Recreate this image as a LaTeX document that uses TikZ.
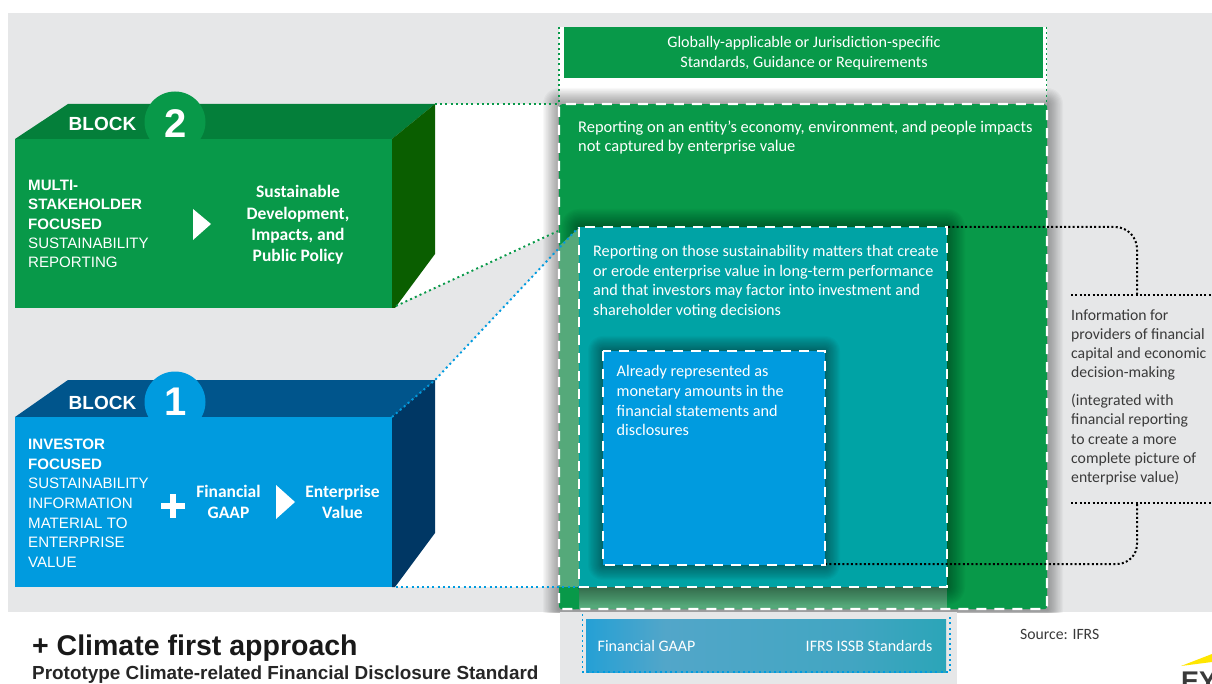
\documentclass[tikz,border=0pt]{standalone}
\usepackage{fontspec}
\setmainfont{Carlito}
\newfontfamily\arialf{Liberation Sans}
\usetikzlibrary{shadings,fadings}
\definecolor{bggray}{HTML}{E6E7E8}
\definecolor{ggreen}{HTML}{089949}
\definecolor{gtop}{HTML}{047F3A}
\definecolor{gside}{HTML}{0A5E00}
\definecolor{bblue}{HTML}{009BDF}
\definecolor{btop}{HTML}{00558C}
\definecolor{bside}{HTML}{003764}
\definecolor{tteal}{HTML}{00A3A5}
\definecolor{paleg}{HTML}{55A97A}
\definecolor{inktext}{HTML}{3A3A3A}
\definecolor{eyyellow}{HTML}{FFE600}
\definecolor{midblue}{HTML}{52A6C9}
\pgfdeclarehorizontalshading{gaapshade}{100bp}{
 color(0bp)=(bblue); color(16bp)=(bblue); color(36bp)=(midblue); color(62bp)=(midblue!80!tteal); color(100bp)=(tteal)}
\tikzset{
 x=1pt,y=-1pt,
 panelborder/.style={draw=white,line width=2.1pt,dash pattern=on 10pt off 8pt},
 dotg/.style={draw=ggreen,line width=1.9pt,dash pattern=on 2pt off 3.2pt},
 dotb/.style={draw=bblue,line width=1.9pt,dash pattern=on 2pt off 3.2pt},
 dotk/.style={draw=black,line width=2pt,dash pattern=on 2pt off 2.3pt},
 wtext/.style={text=white,align=left,anchor=north west,inner sep=0pt,font=\fontsize{16.2}{19.6}\selectfont},
 bltext/.style={text=white,align=left,anchor=north west,inner sep=0pt,font=\arialf\fontsize{15.1}{19.3}\selectfont},
 bltextb/.style={bltext,font=\arialf\fontsize{15.1}{19.6}\selectfont},
 ctextb/.style={text=white,align=center,inner sep=0pt,font=\fontsize{17.5}{21.2}\bfseries\selectfont},
 blockword/.style={text=white,inner sep=0pt,font=\arialf\bfseries\fontsize{19}{19}\selectfont},
 blocknum/.style={text=white,inner sep=0pt,font=\arialf\bfseries\fontsize{40}{40}\selectfont},
 sidetext/.style={text=inktext,align=left,anchor=north west,inner sep=0pt,font=\fontsize{15.7}{19.3}\selectfont},
}
% soft shadow: concentric translucent rectangles (x0,y0,x1,y1,reach)
\newcommand{\softshadow}[5]{%
  \foreach \k in {1,...,14}{%
    \pgfmathsetmacro{\gr}{#5*(15-\k)/14}%
    \fill[black,opacity=0.026,rounded corners=\gr pt] (#1-\gr,#2-\gr) rectangle (#3+\gr,#4+\gr);
  }}
\begin{document}
\begin{tikzpicture}
\useasboundingbox (0,0) rectangle (1212,684);
\fill[white] (0,0) rectangle (1212,684);
% backgrounds
\fill[bggray] (8,13) rectangle (1212,612);
\fill[white] (435,104) -- (558,104) -- (558,232) -- (395,306) -- (435,254) -- cycle;
\fill[white] (435,380) -- (558,250) -- (558,587) -- (395,587) -- (435,533) -- cycle;
\fill[white] (559,27) rectangle (1047,110);
% top band
\node[fill=ggreen,minimum width=479pt,minimum height=51pt,inner sep=0pt,anchor=north west] (band) at (564,27) {};
\node[text=white,align=center,inner sep=0pt,font=\fontsize{16.1}{19.5}\selectfont] (bandtext) at (804,53) {Globally-applicable or Jurisdiction-specific\\Standards, Guidance or Requirements};
% block 2
\fill[gtop] (15,139) -- (68,104) -- (435,104) -- (392,139) -- cycle;
\fill[gside] (392,139) -- (435,104) -- (435,254) -- (395,308) -- (392,308) -- cycle;
\begin{scope}
 \clip (100,80) rectangle (260,139);
 \fill[ggreen] (175,122) circle (30.5);
\end{scope}
\node[fill=ggreen,minimum width=377pt,minimum height=169pt,inner sep=0pt,anchor=north west] (b2) at (15,139) {};
\node[blockword] (b2word) at (102.5,123.5) {BLOCK};
\node[blocknum] (b2num) at (175.5,124) {2};
\node[bltext] (b2a) at (28,180) {\textbf{MULTI-}\\\textbf{STAKEHOLDER}\\\textbf{FOCUSED}\\SUSTAINABILITY\\REPORTING};
\fill[white] (193,209) -- (211,224) -- (193,240) -- cycle;
\node[ctextb] (b2b) at (298,225) {Sustainable\\Development,\\Impacts, and\\Public Policy};
% block 1
\fill[btop] (15,417) -- (68,380) -- (435,380) -- (392,417) -- cycle;
\fill[bside] (392,417) -- (435,380) -- (435,533) -- (395,587) -- (392,587) -- cycle;
\begin{scope}
 \clip (100,360) rectangle (260,417);
 \fill[bblue] (175,402) circle (30.5);
\end{scope}
\node[fill=bblue,minimum width=377pt,minimum height=170pt,inner sep=0pt,anchor=north west] (b1) at (15,417) {};
\node[blockword] (b1word) at (102.5,402.5) {BLOCK};
\node[blocknum] (b1num) at (175.5,402) {1};
\node[bltextb] (b1a) at (28,439) {\textbf{INVESTOR}\\\textbf{FOCUSED}\\SUSTAINABILITY\\INFORMATION\\MATERIAL TO\\ENTERPRISE\\VALUE};
\fill[white] (170,494) rectangle (176,518);
\fill[white] (160.5,503) rectangle (185,509);
\node[ctextb] (b1b) at (228.5,502) {Financial\\GAAP};
\fill[white] (276,485) -- (295,502) -- (276,519) -- cycle;
\node[ctextb] (b1c) at (342.5,502) {Enterprise\\Value};
% green panel
\begin{scope}
 \clip (530,88) rectangle (1075,612);
 \softshadow{559}{104}{1047}{609}{16}
\end{scope}
\node[fill=ggreen,rounded corners=3pt,minimum width=488pt,minimum height=505pt,inner sep=0pt,anchor=north west] (gp) at (559,104) {};
\node[wtext,font=\fontsize{16.4}{19.6}\selectfont] (gptext) at (578,120.5) {Reporting on an entity’s economy, environment, and people impacts\\not captured by enterprise value};
% pale strips and teal panel
\fill[paleg] (579,587) rectangle (947,609);
\begin{scope}
 \clip (559,205) rectangle (975,609);
 \softshadow{579}{227}{947}{587}{18}
\end{scope}
\fill[paleg] (559,246) -- (579,228) -- (579,587) -- (559,587) -- cycle;
\fill[ggreen,rounded corners=3pt] (559,587) rectangle (579,609);
\fill[tteal] (579,227) rectangle (947,587);
\node[wtext] (tptext) at (593,245) {Reporting on those sustainability matters that create\\or erode enterprise value in long-term performance\\and that investors may factor into investment and\\shareholder voting decisions};
% blue panel
\softshadow{603}{351}{825}{565}{15}
\node[fill=bblue,minimum width=222pt,minimum height=214pt,inner sep=0pt,anchor=north west] (bp) at (603,351) {};
\node[wtext] (bptext) at (616.5,365.5) {Already represented as\\monetary amounts in the\\financial statements and\\disclosures};
% borders
\draw[panelborder,rounded corners=3pt] (559,104) rectangle (1047,609);
\draw[panelborder] (579,227) rectangle (947,587);
\draw[panelborder] (603,351) rectangle (825,565);
% bottom band
\fill[bggray] (560,612) rectangle (957,684);
\shade[shading=gaapshade] (586,619) rectangle (946,672);
\node[minimum width=360pt,minimum height=53pt,inner sep=0pt,anchor=north west] (fg) at (586,619) {};
\node[text=white,anchor=west,inner sep=0pt,font=\fontsize{16}{18}\selectfont] (fgl) at (597.5,646) {Financial GAAP};
\node[text=white,anchor=east,inner sep=0pt,font=\fontsize{16}{18}\selectfont] (fgr) at (932.5,646) {IFRS ISSB Standards};
\draw[dotb] (582.5,614) -- (582.5,672) -- (950,672) -- (950,614);
% dotted connectors
\coordinate (k1) at (948,227);
\coordinate (k2) at (1137,294);
\coordinate (k3) at (1137,504);
\coordinate (k4) at (826,564);
\coordinate (gtopa) at (435,104);
\coordinate (gbot) at (396,306);
\coordinate (btopa) at (392,417);
\coordinate (bbot) at (396,587);
\draw[dotg] (gtopa) -- (558,104);
\draw[dotg] (gbot) -- (558,231);
\draw[dotg] (559,27) -- (559,103);
\draw[dotg] (1046.5,27) -- (1046.5,103);
\draw[dotb] (btopa) -- (435,380) -- (578,228);
\draw[dotb] (bbot) -- (579,587);
\draw[dotk,rounded corners=22pt] (k1) -- (1137,227) -- (k2);
\draw[dotk,rounded corners=20pt] (k3) -- (1137,564) -- (k4);
\draw[dotk] (1071,295) -- (1212,295);
\draw[dotk] (1071,503) -- (1212,503);
% side text
\node[sidetext] (s1) at (1071,309) {Information for\\providers of financial\\capital and economic\\decision-making};
\node[sidetext] (s2) at (1071,394) {(integrated with\\financial reporting\\to create a more\\complete picture of\\enterprise value)};
\node[sidetext,anchor=west] (src) at (1020,634) {Source: IFRS};
% headline
\node[text=black!90,anchor=west,inner sep=0pt,font=\arialf\fontsize{28.5}{28}\selectfont\bfseries] (h1) at (32,648.5) {+ Climate first approach};
\node[text=black!85,anchor=west,inner sep=0pt,font=\arialf\fontsize{18.9}{19}\selectfont\bfseries] (h2) at (32,674.5) {Prototype Climate-related Financial Disclosure Standard};
% logo
\fill[eyyellow] (1181,666) -- (1212,654) -- (1212,662) -- cycle;
\node[text=inktext,anchor=north west,inner sep=0pt,font=\arialf\bfseries\fontsize{27}{27}\selectfont] (ey) at (1181,672) {EY};
\end{tikzpicture}
\end{document}
